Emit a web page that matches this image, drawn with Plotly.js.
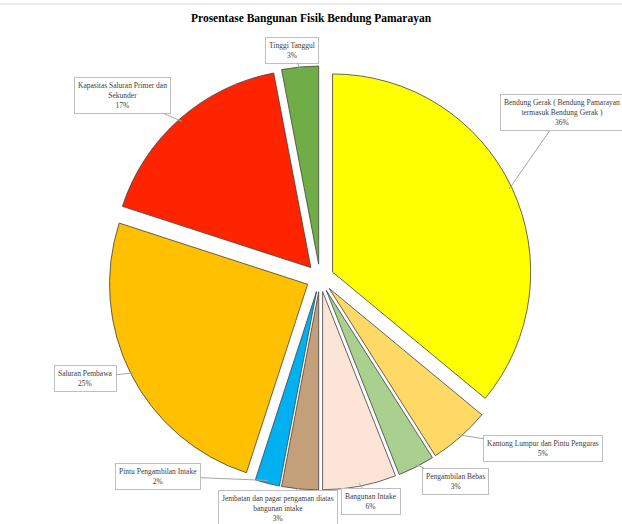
<!DOCTYPE html>
<html>
<head>
<meta charset="utf-8">
<script src="https://cdn.plot.ly/plotly-3.0.1.min.js"></script>
<style>html,body{margin:0;padding:0;background:#fff;}#chart{width:622px;height:524px;}</style>
</head>
<body>
<div id="chart"></div>
<script>
// ---- data ----
const labels = [
  "Bendung Gerak ( Bendung Pamarayan termasuk Bendung Gerak )",
  "Kantong Lumpur dan Pintu Penguras",
  "Pengambilan Bebas",
  "Bangunan Intake",
  "Jembatan dan pagar pengaman diatas bangunan intake",
  "Pintu Pengambilan Intake",
  "Saluran Pembawa",
  "Kapasitas Saluran Primer dan Sekunder",
  "Tinggi Tanggul"
];
const labelLines = [
  "Bendung Gerak ( Bendung Pamarayan<br>termasuk Bendung Gerak )",
  "Kantong Lumpur dan Pintu Penguras",
  "Pengambilan Bebas",
  "Bangunan Intake",
  "Jembatan dan pagar pengaman diatas<br>bangunan intake",
  "Pintu Pengambilan Intake",
  "Saluran Pembawa",
  "Kapasitas Saluran Primer dan<br>Sekunder",
  "Tinggi Tanggul"
];
const percents = [36, 5, 3, 6, 3, 2, 25, 17, 3];

// ---- styles ----
const colors = ["#FFFF00", "#FFD966", "#A9D08E", "#FCE4D6", "#C4A07A", "#00B0F0", "#FFC000", "#FF2400", "#70AD47"];
const W = 622, H = 524;
const cx = 320, cy = 278, pull = 0.07, r0 = 212;
const r = r0 / (1 + pull);
// label box centres (px)
const boxPos = [[562, 113], [543, 448], [455, 481], [371, 501], [278, 508], [158, 476], [85, 378], [122, 96], [292, 50]];

const total = percents.reduce((a, b) => a + b, 0);
let cum = 0;
const annotations = [];
percents.forEach((p, i) => {
  const mid = (cum + p / 2) / total * 2 * Math.PI;
  cum += p;
  const dx = Math.sin(mid), dy = -Math.cos(mid);
  const dist = r * (1 + pull) - 3;
  const tx = cx + dx * dist, ty = cy + dy * dist;
  annotations.push({
    xref: "paper", yref: "paper",
    x: tx / W, y: 1 - ty / H,
    ax: boxPos[i][0] - tx, ay: boxPos[i][1] - ty,
    text: labelLines[i] + "<br>" + p + "%",
    showarrow: true, arrowhead: 0, arrowwidth: 1, arrowcolor: "#A6A6A6",
    bordercolor: "#BFBFBF", borderwidth: 1, borderpad: 3, bgcolor: "#FFFFFF",
    font: {family: "Liberation Serif, serif", size: 7.5, color: "#404040"},
    align: "center"
  });
});

const trace = {
  type: "pie",
  labels: labels,
  values: percents,
  sort: false,
  direction: "clockwise",
  rotation: 0,
  pull: percents.map(() => pull),
  marker: {colors: colors, line: {color: "#404040", width: 0.8}},
  textinfo: "none",
  hoverinfo: "label+percent",
  domain: {x: [(cx - r0) / W, (cx + r0) / W], y: [1 - (cy + r0) / H, 1 - (cy - r0) / H]}
};

const layout = {
  width: W, height: H,
  margin: {l: 0, r: 0, t: 0, b: 0},
  paper_bgcolor: "#FFFFFF",
  showlegend: false,
  title: {text: "<b>Prosentase Bangunan Fisik Bendung Pamarayan</b>", x: 0.5, xanchor: "center", y: 1 - 18 / H, yanchor: "middle",
          font: {family: "Liberation Serif, serif", size: 11.5, color: "#000000"}},
  annotations: annotations,
  shapes: [{type: "line", xref: "paper", yref: "paper", x0: 0, x1: 1, y0: 1 - 4 / H, y1: 1 - 4 / H, line: {color: "#D9D9D9", width: 1}}]
};

Plotly.newPlot("chart", [trace], layout, {displayModeBar: false, staticPlot: true});
</script>
</body>
</html>
